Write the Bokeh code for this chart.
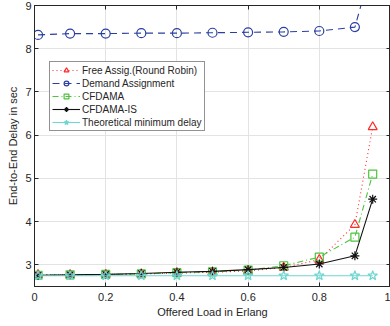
from bokeh.plotting import figure
from bokeh.models import LinearAxis, FixedTicker, Legend, LegendItem, Range1d, CustomJSTickFormatter
from bokeh.embed import file_html
from bokeh.resources import INLINE

load = [0.01, 0.1, 0.2, 0.3, 0.4, 0.5, 0.6, 0.7, 0.8, 0.9, 0.95]
free_assig = [2.77, 2.77, 2.78, 2.79, 2.81, 2.83, 2.86, 2.94, 3.12, 3.93, 6.19]
demand = [8.32, 8.35, 8.35, 8.36, 8.36, 8.37, 8.38, 8.39, 8.41, 8.50, 9.97]
cfdama = [2.76, 2.77, 2.78, 2.79, 2.82, 2.84, 2.88, 2.98, 3.18, 3.64, 5.10]
cfdama_is = [2.76, 2.77, 2.78, 2.80, 2.83, 2.85, 2.89, 2.94, 3.02, 3.21, 4.52]
theo_min = [2.75, 2.75, 2.75, 2.75, 2.75, 2.75, 2.75, 2.75, 2.75, 2.75, 2.75]

x_ticks = [0, 0.2, 0.4, 0.6, 0.8, 1]
y_ticks = [3, 4, 5, 6, 7, 8, 9]

FONT = "Liberation Sans"
AX = "#262626"

p = figure(width=390, height=326, output_backend="svg", toolbar_location=None,
           x_range=Range1d(0, 1), y_range=Range1d(2.5, 9),
           min_border_left=34, min_border_right=0, min_border_top=5, min_border_bottom=40)
p.background_fill_color = "white"
p.border_fill_color = "white"
p.outline_line_color = AX
p.outline_line_width = 1

for ax in (p.xaxis[0], p.yaxis[0]):
    ax.major_tick_in = 4
    ax.major_tick_out = 0
    ax.minor_tick_in = 0
    ax.minor_tick_out = 0
    ax.axis_line_color = AX
    ax.major_tick_line_color = AX
    ax.major_label_text_font = FONT
    ax.major_label_text_font_size = "11px"
    ax.major_label_text_color = AX
    ax.axis_label_text_font = FONT
    ax.axis_label_text_font_size = "11px"
    ax.axis_label_text_font_style = "normal"
    ax.axis_label_text_color = AX

p.xaxis[0].ticker = FixedTicker(ticks=x_ticks)
p.yaxis[0].ticker = FixedTicker(ticks=y_ticks)
p.xaxis[0].major_label_overrides = {0: "0", 1: "1"}
p.xaxis[0].axis_label = "Offered Load in Erlang"
p.yaxis[0].axis_label = "End-to-End Delay in sec"
p.xaxis[0].axis_label_standoff = 2
p.yaxis[0].axis_label_standoff = 3
p.yaxis[0].major_label_standoff = 3
p.xaxis[0].major_label_standoff = 6

blank = CustomJSTickFormatter(code="return '';")
for side, tk in (("above", x_ticks), ("right", y_ticks)):
    a = LinearAxis(ticker=FixedTicker(ticks=tk), major_tick_in=4, major_tick_out=0,
                   minor_tick_in=0, minor_tick_out=0, axis_line_color=AX,
                   major_tick_line_color=AX, formatter=blank,
                   major_label_standoff=0, major_label_text_font_size="1px")
    p.add_layout(a, side)

p.xgrid.ticker = FixedTicker(ticks=x_ticks)
p.ygrid.ticker = FixedTicker(ticks=y_ticks)
p.grid.grid_line_color = "#e3e3e3"
p.grid.grid_line_width = 1

series = [
    ("Free Assig.(Round Robin)", free_assig, "#ff2a2a", "1 3", "triangle", 9),
    ("Demand Assignment", demand, "#2b3fa0", "7 5", "circle", 9),
    ("CFDAMA", cfdama, "#4cc43c", "6 3 1 3", "square", 8),
    ("CFDAMA-IS", cfdama_is, "#111111", "solid", "asterisk", 9),
    ("Theoretical minimum delay", theo_min, "#6fd6d2", "solid", "star", 10),
]

items = []
for name, ys, col, dash, mk, sz in series:
    ln = p.line(load, ys, line_color=col, line_width=1.1, line_dash=dash)
    sc = p.scatter(load, ys, marker=mk, size=sz, line_color=col, fill_color=None, line_width=1.2)
    items.append(LegendItem(label=name, renderers=[ln, sc]))

legend = Legend(items=items, location=(15, 155))
legend.label_text_font = FONT
legend.label_text_font_size = "10px"
legend.label_text_color = AX
legend.label_height = 11
legend.glyph_height = 12
legend.glyph_width = 28
legend.spacing = 1
legend.padding = 2
legend.margin = 0
legend.label_standoff = 2
legend.border_line_color = AX
legend.border_line_width = 1
legend.background_fill_alpha = 1
p.add_layout(legend, "center")

open("out.html", "w").write(file_html(p, INLINE))
